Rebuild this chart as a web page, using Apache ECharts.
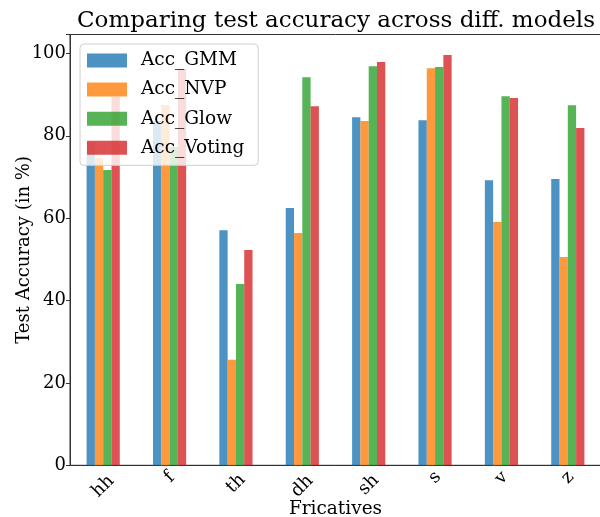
<!DOCTYPE html>
<html>
<head>
<meta charset="utf-8">
<script src="https://cdn.jsdelivr.net/npm/echarts@6/dist/echarts.min.js"></script>
<style>html,body{margin:0;padding:0;background:#fff;}#c{width:600px;height:517px;}</style>
</head>
<body>
<div id="c"></div>
<script>
const categories = ['hh', 'f', 'th', 'dh', 'sh', 's', 'v', 'z'];
const accGMM    = [78.3, 83.6, 57.1, 62.5, 84.5, 83.8, 69.2, 69.5];
const accNVP    = [74.6, 87.5, 25.6, 56.4, 83.6, 96.4, 59.1, 50.6];
const accGlow   = [71.7, 77.3, 44.0, 94.2, 96.9, 96.7, 89.6, 87.4];
const accVoting = [89.5, 96.2, 52.3, 87.2, 97.9, 99.6, 89.2, 81.9];
const yTicks = [0, 20, 40, 60, 80, 100];

const seriesNames = ['Acc_GMM', 'Acc_NVP', 'Acc_Glow', 'Acc_Voting'];
const seriesData = [accGMM, accNVP, accGlow, accVoting];
const colors = ['rgba(31,119,180,0.8)', 'rgba(255,127,14,0.8)', 'rgba(44,160,44,0.8)', 'rgba(214,39,40,0.8)'];
const font = 'DejaVu Serif';

// rotated tick labels centred under their ticks (matplotlib-like): push wider labels down
const mctx = document.createElement('canvas').getContext('2d');
mctx.font = '18px "DejaVu Serif"';
const rich = {};
categories.forEach((c, i) => {
  const w = mctx.measureText(c).width;
  const p = Math.max(0, 0.9 * (w - 9));
  rich['l' + i] = {fontFamily: font, fontSize: 18, color: '#000', padding: [p, p, 0, 0]};
});

const chart = echarts.init(document.getElementById('c'), null, {renderer: 'canvas'});
chart.setOption({
  animation: false,
  backgroundColor: '#fff',
  title: {
    text: 'Comparing test accuracy across diff. models',
    left: 331, top: 5, textAlign: 'center',
    textStyle: {fontFamily: font, fontSize: 23, fontWeight: 'normal', color: '#000'}
  },
  legend: {
    orient: 'vertical', left: 80, top: 44,
    padding: [7, 14, 8, 7],
    itemWidth: 40, itemHeight: 14, itemGap: 10.1,
    icon: 'rect',
    backgroundColor: 'rgba(255,255,255,0.8)',
    borderColor: '#d0d0d0', borderWidth: 1, borderRadius: 4,
    textStyle: {fontFamily: font, fontSize: 18.5, color: '#000', padding: [0, 0, 0, 9], lineHeight: 18},
    data: seriesNames
  },
  grid: {left: 70, right: -1, top: 34.5, bottom: 51.7, show: true, borderColor: '#333', borderWidth: 1,
    containLabel: false, outerBoundsMode: 'none'},
  xAxis: {
    type: 'category', data: categories, boundaryGap: true,
    name: 'Fricatives', nameLocation: 'middle', nameGap: 34, nameMoveOverlap: false,
    nameTextStyle: {fontFamily: font, fontSize: 18.5, color: '#000'},
    axisLine: {lineStyle: {color: '#333'}},
    axisTick: {alignWithLabel: true, length: 4, lineStyle: {color: '#333'}},
    axisLabel: {rotate: 45, align: 'center', verticalAlign: 'middle', fontFamily: font, fontSize: 18,
      color: '#000', margin: 12, interval: 0,
      formatter: (v, i) => '{l' + i + '|' + v + '}', rich: rich},
    splitLine: {show: false}
  },
  yAxis: {
    type: 'value', min: 0, max: 104.6, interval: 20,
    name: 'Test Accuracy (in %)', nameLocation: 'middle', nameGap: 37, nameMoveOverlap: false,
    nameTextStyle: {fontFamily: font, fontSize: 18, color: '#000'},
    axisLine: {show: true, lineStyle: {color: '#333'}},
    axisTick: {show: true, length: 4, lineStyle: {color: '#333'}},
    axisLabel: {fontFamily: font, fontSize: 18, color: '#000', margin: 4,
      formatter: v => yTicks.indexOf(v) >= 0 ? String(v) : ''},
    splitLine: {show: false}
  },
  series: seriesNames.map((n, i) => ({
    name: n, type: 'bar', data: seriesData[i],
    barWidth: '12.5%', barGap: '0%',
    itemStyle: {color: colors[i]}
  }))
});
</script>
</body>
</html>
